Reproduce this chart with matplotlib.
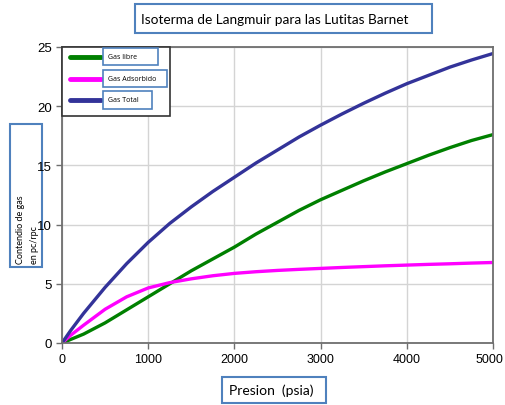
import numpy as np
import matplotlib.pyplot as plt
from matplotlib.patches import Rectangle
from matplotlib.transforms import ScaledTranslation

# Pressure (psia) and gas content (pc/rpc)
presion = [0, 100, 250, 500, 750, 1000, 1250, 1500, 1750, 2000, 2250, 2500, 2750, 3000,
           3250, 3500, 3750, 4000, 4250, 4500, 4750, 5000]
gas_libre = [0, 0.3, 0.75, 1.7, 2.8, 3.9, 5.0, 6.1, 7.1, 8.1, 9.2, 10.2, 11.2, 12.1,
             12.9, 13.7, 14.45, 15.15, 15.85, 16.5, 17.1, 17.6]
gas_adsorbido = [0, 0.65, 1.5, 2.85, 3.9, 4.65, 5.1, 5.42, 5.68, 5.88, 6.02, 6.13, 6.22, 6.3,
                 6.38, 6.45, 6.52, 6.58, 6.64, 6.69, 6.75, 6.8]
gas_total = [0, 1.05, 2.5, 4.7, 6.7, 8.5, 10.1, 11.5, 12.8, 14.0, 15.2, 16.3, 17.4, 18.4,
             19.35, 20.25, 21.1, 21.9, 22.6, 23.3, 23.9, 24.45]

series = [("Gas libre", gas_libre, "#008000"),
          ("Gas Adsorbido", gas_adsorbido, "#ff00ff"),
          ("Gas Total", gas_total, "#333399")]

box_color = "#4f81bd"
W, H = 505, 406

fig = plt.figure(figsize=(W / 100, H / 100), dpi=100)
ax = fig.add_axes([62 / W, 1 - 344 / H, (493 - 62) / W, (344 - 48) / H])

for name, vals, col in series:
    ax.plot(presion, vals, color=col, lw=2.4, solid_capstyle="round", solid_joinstyle="round")

ax.set_xlim(0, 5000)
ax.set_ylim(0, 25)
ax.set_xticks(np.arange(0, 5001, 1000))
ax.set_yticks(np.arange(0, 26, 5))
ax.grid(True, color="#d4d4d4", lw=1)
ax.set_axisbelow(True)
for sp in ax.spines.values():
    sp.set_color("#6e6e6e")
    sp.set_linewidth(1.3)
ax.tick_params(direction="out", length=4, width=1, color="#6e6e6e", pad=3)
ax.tick_params(axis="x", labelsize=9)
ax.tick_params(axis="y", labelsize=9.5)
for lab in ax.get_xticklabels() + ax.get_yticklabels():
    lab.set_fontfamily(["Liberation Sans Narrow", "Liberation Sans"])
# nudge the last x label so it stays inside the picture
last = ax.get_xticklabels()[-1]
last.set_transform(last.get_transform() + ScaledTranslation(-4 / 100, 0, fig.dpi_scale_trans))


def px_box(x0, y0, x1, y1, lw=1.5, ec=box_color, z=-1):
    # rectangle in pixel coords measured from the top-left corner
    fig.patches.append(Rectangle((x0 / W, 1 - y1 / H), (x1 - x0) / W, (y1 - y0) / H,
                                 transform=fig.transFigure, facecolor="white",
                                 edgecolor=ec, lw=lw, zorder=z))


# legend drawn in the style of the original
px_box(62, 48, 170, 117, lw=1.2, ec="#333333", z=5)
legend_boxes = [(103, 49, 158, 66), (103, 71, 167, 88), (103, 92, 152, 110)]
for (name, vals, col), (x0, y0, x1, y1) in zip(series, legend_boxes):
    yc = (y0 + y1) / 2
    fig.add_artist(plt.Line2D([70 / W, 101 / W], [1 - yc / H, 1 - yc / H], color=col,
                              lw=3.5, solid_capstyle="round", zorder=6))
    px_box(x0, y0, x1, y1, lw=1.2, z=6)
    fig.text((x0 + 5) / W, 1 - yc / H, name, fontsize=5, va="center", ha="left",
             family="Open Sans", zorder=7)

px_box(135, 5, 432, 34)
fig.text(141 / W, 1 - 19.5 / H, "Isoterma de Langmuir para las Lutitas Barnet",
         ha="left", va="center", fontsize=9.8, family="Lato")
px_box(222, 378, 326, 404)
fig.text(229 / W, 1 - 391 / H, "Presion  (psia)", ha="left", va="center",
         fontsize=10, family="Lato")
px_box(10, 125, 42, 268)
fig.text(27.5 / W, 1 - 264 / H, "Contendio de gas\nen pc/rpc", ha="center", va="bottom",
         rotation=90, fontsize=6.5, family="Lato", linespacing=1.6, multialignment="left")

fig.savefig("out.png", dpi=100)
